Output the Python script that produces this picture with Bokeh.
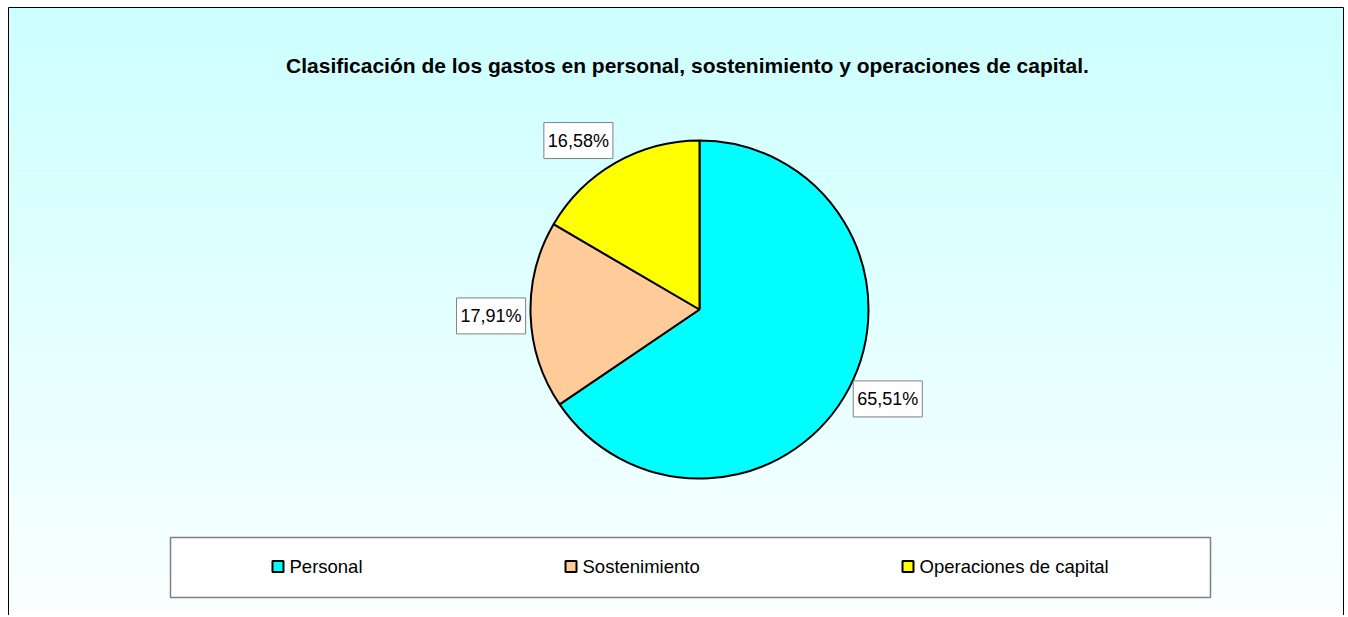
import math
from bokeh.plotting import figure
from bokeh.models import Range1d, Label
from bokeh.core.properties import value
from bokeh.embed import file_html
from bokeh.resources import INLINE

# ---- data ----
title_text = "Clasificación de los gastos en personal, sostenimiento y operaciones de capital."
categories = ["Personal", "Sostenimiento", "Operaciones de capital"]
percentages = [65.51, 17.91, 16.58]
label_texts = ["65,51%", "17,91%", "16,58%"]
colors = ["#00FFFF", "#FFCC99", "#FFFF00"]

W, H = 1344, 615
FONT = "Liberation Sans"

p = figure(width=W, height=H, output_backend="svg", toolbar_location=None,
           x_range=Range1d(0, W), y_range=Range1d(0, H), min_border=0)
p.axis.visible = False
p.grid.visible = False
p.outline_line_color = None
p.background_fill_color = "white"
p.border_fill_color = "white"

def px(x):  # screen x -> data x
    return x

def py(y):  # screen y (down) -> data y (up)
    return H - y

# chart area gradient background
L, R, T, B = 8, 1343, 7, 640
N = 120
tops, bots, cols = [], [], []
c0 = (204, 255, 255)
c1 = (249, 255, 255)
span = 610 - T
for i in range(N):
    t = i / (N - 1)
    tops.append(py(T + i * span / N))
    bots.append(py(T + (i + 1) * span / N) - 0.5)
    c = tuple(int(round(c0[k] + (c1[k] - c0[k]) * t)) for k in range(3))
    cols.append("#%02x%02x%02x" % c)
p.quad(left=px(L), right=px(R), top=tops, bottom=bots, fill_color=cols, line_color=None)
p.quad(left=px(L), right=px(R), top=py(T), bottom=py(B), fill_color=None,
       line_color="black", line_width=1)

# title
p.text(x=[px(687)], y=[py(65)], text=[title_text], text_font=value(FONT),
       text_font_size="21px", text_font_style="bold", text_align="center",
       text_baseline="middle", text_color="black")

# pie
cx, cy, r = px(699), py(309), 169
total = sum(percentages)
starts, ends, mids = [], [], []
a = math.pi / 2
for v in percentages:
    sweep = 2 * math.pi * v / total
    end = a
    start = a - sweep
    starts.append(start)
    ends.append(end)
    mids.append((start + end) / 2)
    a = start
p.wedge(x=cx, y=cy, radius=r, start_angle=starts, end_angle=ends,
        fill_color=colors, line_color="black", line_width=2)

# data labels
for txt, m in zip(label_texts, mids):
    c, s = math.cos(m), math.sin(m)
    rr = r + 5
    align = "left" if c > 0.3 else ("right" if c < -0.3 else "center")
    base = "top" if s < -0.5 else ("bottom" if s > 0.5 else "middle")
    lx = cx + rr * c
    ly = cy + (rr + 17) * s if base == "middle" else cy + rr * s
    p.add_layout(Label(x=lx, y=ly, text=txt, text_font=FONT, text_font_size="18px",
                       text_color="black", text_align=align, text_baseline=base,
                       background_fill_color="white", border_line_color="#808080",
                       border_line_width=1, padding=(4, 8)))

# legend box
p.quad(left=px(170), right=px(1210), top=py(537), bottom=py(597),
       fill_color="white", line_color="#808080", line_width=1.5)
item_x = [272, 565, 902]
ly = py(566)
for name, col, x0 in zip(categories, colors, item_x):
    p.quad(left=px(x0), right=px(x0) + 11, top=ly + 5.5, bottom=ly - 5.5,
           fill_color=col, line_color="black", line_width=2)
    p.text(x=[px(x0) + 17], y=[ly], text=[name], text_font=value(FONT),
           text_font_size="18.5px", text_align="left", text_baseline="middle",
           text_color="black")

open("out.html", "w").write(file_html(p, INLINE))
